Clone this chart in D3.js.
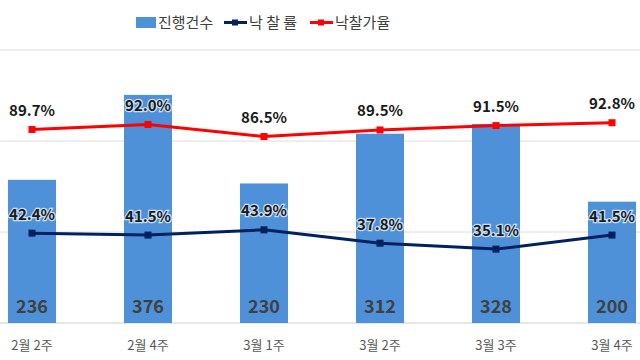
<!DOCTYPE html>
<html><head><meta charset="utf-8">
<script src="https://cdn.jsdelivr.net/npm/d3@7"></script>
<style>body{margin:0;background:#fff}svg{display:block}text{font-family:"Noto Sans CJK KR","Noto Sans",sans-serif}</style>
</head><body><svg id="c" width="640" height="360"></svg>
<script>
const categories = ["2월 2주","2월 4주","3월 1주","3월 2주","3월 3주","3월 4주"];
const counts = [236, 376, 230, 312, 328, 200];
const bidRate = [42.4, 41.5, 43.9, 37.8, 35.1, 41.5];
const priceRate = [89.7, 92.0, 86.5, 89.5, 91.5, 92.8];
const countTicks = [0, 150, 300, 450];
const legendLabels = ["진행건수", "낙 찰 률", "낙찰가율"];

const svg = d3.select("#c");
const plotTop = 50, plotBase = 323;
const x = d3.scaleBand().domain(categories).range([-26, 670]).paddingInner(0.586).paddingOuter(0.293);
const y = d3.scaleLinear().domain([0, 450]).range([plotBase, plotTop]);
const yp = d3.scaleLinear().domain([0, 125]).range([326, 52.2]);
const cx = d => x(d) + x.bandwidth() / 2;

// gridlines
svg.append("g").selectAll("line").data(countTicks).join("line")
  .attr("x1", 0).attr("x2", 640).attr("y1", d => y(d)).attr("y2", d => y(d))
  .attr("stroke", d => d === 0 ? "#d0d0d0" : "#dcdcdc").attr("stroke-width", 1);

// bars
svg.append("g").selectAll("rect").data(counts).join("rect")
  .attr("x", (d, i) => x(categories[i])).attr("width", x.bandwidth())
  .attr("y", d => y(d)).attr("height", d => plotBase - y(d)).attr("fill", "#4e91d8");

// bar value labels
svg.append("g").selectAll("text").data(counts).join("text")
  .attr("x", (d, i) => cx(categories[i])).attr("y", 313)
  .attr("text-anchor", "middle").attr("font-size", 18).attr("font-weight", "bold")
  .attr("fill", "#404040").text(d => d);

// x labels
svg.append("g").selectAll("text").data(categories).join("text")
  .attr("x", d => cx(d)).attr("y", 350)
  .attr("text-anchor", "middle").attr("font-size", 13).attr("fill", "#595959").text(d => d);

function series(vals, color) {
  const line = d3.line().x((d, i) => cx(categories[i])).y(d => yp(d));
  svg.append("path").datum(vals).attr("d", line).attr("fill", "none")
    .attr("stroke", color).attr("stroke-width", 3);
  svg.append("g").selectAll("rect").data(vals).join("rect")
    .attr("x", (d, i) => cx(categories[i]) - 3.5).attr("y", d => yp(d) - 3.5)
    .attr("width", 7).attr("height", 7).attr("fill", color);
  svg.append("g").selectAll("text").data(vals).join("text")
    .attr("x", (d, i) => cx(categories[i])).attr("y", d => yp(d) - 13.5)
    .attr("text-anchor", "middle").attr("font-size", 15).attr("font-weight", "bold")
    .attr("fill", "#1a1a1a").attr("stroke", "#ffffff").attr("stroke-width", 2.5)
    .attr("stroke-opacity", 0.7).attr("paint-order", "stroke")
    .text(d => d.toFixed(1) + "%");
}
series(bidRate, "#002060");
series(priceRate, "#ff0000");

// legend
const lg = svg.append("g").attr("font-size", 15).attr("fill", "#404040");
lg.append("rect").attr("x", 136).attr("y", 17).attr("width", 20).attr("height", 11).attr("fill", "#4e91d8");
lg.append("text").attr("x", 158).attr("y", 28).text(legendLabels[0]).attr("fill", "#404040");
[[224, "#002060", legendLabels[1]], [310, "#ff0000", legendLabels[2]]].forEach(([lx, col, lab]) => {
  lg.append("line").attr("x1", lx).attr("x2", lx + 23).attr("y1", 22.5).attr("y2", 22.5).attr("stroke", col).attr("stroke-width", 3);
  lg.append("rect").attr("x", lx + 8).attr("y", 19.5).attr("width", 6).attr("height", 6).attr("fill", col);
  lg.append("text").attr("x", lx + 25).attr("y", 28).text(lab).attr("fill", "#404040");
});
</script></body></html>
